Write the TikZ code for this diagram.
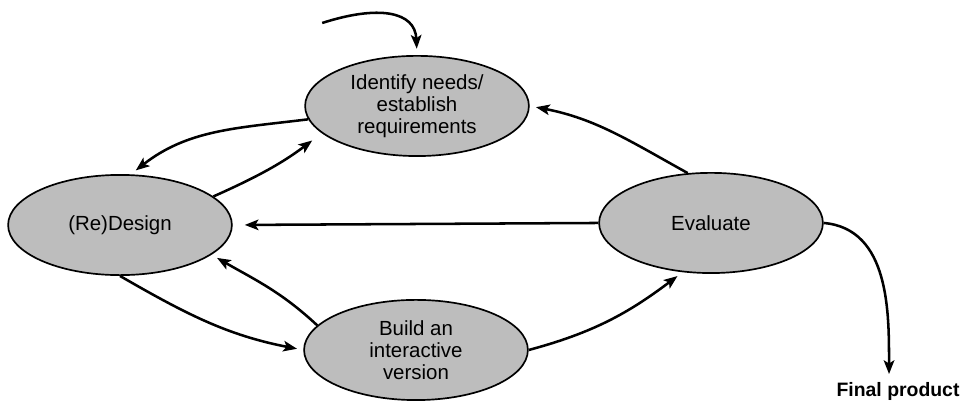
\documentclass[tikz,border=0pt]{standalone}
\usepackage{fontspec}
\setmainfont{Liberation Sans}
\usepackage{tikz}
\usetikzlibrary{arrows.meta,positioning,shapes.geometric}
\definecolor{phasegray}{HTML}{BDBDBD}

\begin{document}
\begin{tikzpicture}[
  phase/.style={ellipse,draw,line width=0.8pt,fill=phasegray,minimum width=3.73cm,minimum height=1.67cm,inner sep=0pt,align=center,font=\fontsize{9.7}{10.5}\selectfont},
  flow/.style={line width=1.2pt,-{Stealth[length=6.5pt,width=5pt,inset=1.5pt]},shorten >=3pt},
  lab/.style={font=\fontsize{9.2}{11}\selectfont\bfseries,inner sep=1pt}
]
\useasboundingbox (0,0) rectangle (16.05,6.733);
\node[phase] (ident) at (6.95,4.967) {Identify needs/\\establish\\requirements};
\node[phase] (design) at (2.0,2.983) {(Re)Design};
\node[phase] (eval) at (11.85,3.017) {Evaluate};
\node[phase] (build) at (6.933,0.9) {Build an\\interactive\\version};
\node[lab,anchor=base] (final) at (14.967,0.117) {Final product};
\coordinate (start) at (5.37,6.35);
\draw[flow] (start) .. controls (6.3,6.65) and (6.92,6.55) .. (ident.north);
\draw[flow] (ident.187) to[out=187,in=38] (design.78);
\draw[flow,shorten >=0.2cm] (design.17) to[out=24,in=217] (ident.196);
\draw[flow] (eval.115) to[out=151,in=-11] (ident.east);
\draw[flow,shorten >=0.2cm] (eval.west) -- (design.east);
\draw[flow] (build.166) to[out=137,in=-30] (design.-18);
\draw[flow] (design.south) to[out=-30,in=169] (build.west);
\draw[flow] (build.east) to[out=15,in=217] (eval.240);
\draw[flow] (eval.east) to[out=-5,in=90] ([xshift=-1.5mm]final.north);
\end{tikzpicture}
\end{document}
